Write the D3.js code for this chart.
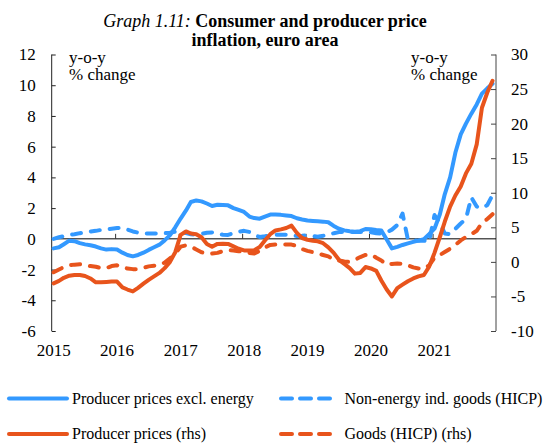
<!DOCTYPE html>
<html>
<head>
<meta charset="utf-8">
<script src="https://cdn.jsdelivr.net/npm/d3@7"></script>
<style>
  body { margin: 0; background: #fff; }
  #chart { width: 545px; height: 443px; }
  svg text { font-family: "Liberation Serif", "Times New Roman", serif; fill: #000; }
</style>
</head>
<body>
<div id="chart"></div>
<script>
// monthly data, Jan 2015 - Dec 2021
var startYear = 2015;
var yearLabels = ["2015", "2016", "2017", "2018", "2019", "2020", "2021"];
var leftTicks = [-6, -4, -2, 0, 2, 4, 6, 8, 10, 12];
var rightTicks = [-10, -5, 0, 5, 10, 15, 20, 25, 30];

// Producer prices excl. energy (lhs)
var ppiExEnergy = [
  -0.62, -0.55, -0.35, -0.12, -0.15, -0.28, -0.36, -0.42, -0.5, -0.62, -0.7, -0.67,
  -0.7, -0.9, -1.05, -1.14, -1.05, -0.9, -0.72, -0.55, -0.38, -0.1, 0.24, 0.75,
  1.32, 1.85, 2.4, 2.5, 2.44, 2.3, 2.14, 2.22, 2.2, 2.18, 2.0, 1.88,
  1.75, 1.45, 1.35, 1.31, 1.45, 1.58, 1.58, 1.56, 1.52, 1.48, 1.34, 1.26,
  1.19, 1.16, 1.14, 1.12, 1.08, 0.84, 0.66, 0.55, 0.5, 0.46, 0.5, 0.64,
  0.62, 0.58, 0.55, -0.05, -0.62, -0.52, -0.4, -0.3, -0.2, -0.12, -0.02, 0.3,
  0.66, 1.6, 2.9, 4.0, 5.6, 6.8, 7.5, 8.15, 8.75, 9.45, 9.8, 10.1
];

// Non-energy ind. goods (HICP) (lhs)
var neig = [
  0.0, 0.1, 0.17, 0.25, 0.3, 0.37, 0.42, 0.47, 0.52, 0.58, 0.62, 0.66,
  0.7, 0.72, 0.6, 0.48, 0.4, 0.35, 0.34, 0.34, 0.35, 0.37, 0.4, 0.47,
  0.48, 0.38, 0.3, 0.27, 0.32, 0.4, 0.42, 0.34, 0.27, 0.25, 0.38, 0.46,
  0.52, 0.45, 0.25, 0.12, 0.17, 0.23, 0.26, 0.27, 0.27, 0.24, 0.19, 0.2,
  0.22, 0.18, 0.13, 0.2, 0.3, 0.36, 0.44, 0.44, 0.44, 0.44, 0.44, 0.44,
  0.42, 0.37, 0.34, 0.42, 0.6, 0.9, 1.65, -0.05, -0.1, -0.12, -0.12, -0.2,
  1.55, 1.05, 0.35, 0.3, 0.65, 1.0, 1.3, 2.7, 2.1, 2.0, 2.2, 2.85
];

// Producer prices (rhs)
var ppi = [
  -3.1, -2.75, -2.3, -2.0, -1.9, -1.9, -2.05, -2.4, -2.95, -2.95, -2.9, -2.85,
  -2.85, -3.7, -4.0, -4.27, -3.75, -3.15, -2.6, -2.1, -1.6, -0.9, 0.0, 1.4,
  3.9, 4.4, 4.1, 4.0, 3.55, 2.6, 2.2, 2.6, 2.63, 2.6, 2.25, 1.9,
  1.66, 1.66, 1.7, 2.14, 3.1, 4.0, 4.55, 4.7, 4.9, 5.25, 4.2, 3.45,
  3.2, 3.05, 2.97, 2.7, 2.1, 1.3, 0.3, -0.3, -0.9, -1.7, -1.6, -0.75,
  -0.95, -1.3, -2.7, -4.0, -5.0, -3.8, -3.3, -2.8, -2.4, -2.1, -1.9, -0.7,
  1.3, 3.6, 5.8, 8.0, 9.6, 10.9, 12.8, 14.2, 17.0, 22.3, 24.5, 26.2
];

// Goods (HICP) (rhs)
var goods = [
  -1.5, -1.1, -0.75, -0.5, -0.4, -0.35, -0.5, -0.6, -0.7, -0.9, -0.9, -0.6,
  -0.5, -0.75, -0.97, -1.05, -1.05, -0.85, -0.65, -0.55, -0.45, -0.1, 0.5, 1.2,
  2.2, 2.4, 2.2, 1.8, 1.4, 1.2, 1.2, 1.3, 1.55, 1.7, 1.65, 1.55,
  1.42, 1.3, 1.2, 1.6, 2.1, 2.45, 2.5, 2.5, 2.5, 2.5, 2.3, 1.85,
  1.6, 1.4, 1.2, 1.0, 0.8, 0.3, 0.2, 0.05, 0.0, 0.3, 0.7, 1.0,
  1.1, 0.6, 0.2, -0.4, -0.3, -0.25, -0.26, -0.5, -0.8, -0.95, -1.0, -0.5,
  0.6, 1.0, 1.42, 1.9, 2.45, 3.1, 3.6, 4.0, 4.5, 5.6, 6.2, 6.9
];

var blue = "#3399ff";
var orange = "#e8541c";

var series = [
  {name: "Producer prices excl. energy", values: ppiExEnergy, axis: "left", color: blue, dash: null},
  {name: "Non-energy ind. goods (HICP)", values: neig, axis: "left", color: blue, dash: "9,10"},
  {name: "Producer prices (rhs)", values: ppi, axis: "right", color: orange, dash: null},
  {name: "Goods (HICP) (rhs)", values: goods, axis: "right", color: orange, dash: "9,10"}
];

var width = 545;
var height = 443;
var margin = {top: 54.5, left: 51.7, right: 49, bottom: 112};
var serif = "Liberation Serif, Times New Roman, serif";

var svg = d3.select("#chart")
  .append("svg")
  .attr("width", width)
  .attr("height", height);

// points sit a little into each month
function monthDate(i) {
  return new Date(startYear, i, 12);
}

// plain hyphen for negatives, like the original
function plain(d) { return String(d); }

var xScale = d3.scaleTime()
  .domain([new Date(startYear, 0, 1), new Date(startYear + yearLabels.length, 0, 1)])
  .range([margin.left, width - margin.right]);

var yLeft = d3.scaleLinear()
  .domain([-6, 12])
  .range([height - margin.bottom, margin.top]);

var yRight = d3.scaleLinear()
  .domain([-10, 30])
  .range([height - margin.bottom, margin.top]);

// title
var title = svg.append("text")
  .attr("x", 265)
  .attr("y", 27)
  .attr("text-anchor", "middle")
  .style("font-size", "18px");
title.append("tspan").style("font-style", "italic").text("Graph 1.11:");
title.append("tspan").style("font-weight", "bold").text(" Consumer and producer price");

svg.append("text")
  .attr("x", 265)
  .attr("y", 46)
  .attr("text-anchor", "middle")
  .style("font-size", "18px")
  .style("font-weight", "bold")
  .text("inflation, euro area");

// left axis
var leftAxis = svg.append("g")
  .attr("transform", `translate(${margin.left},0)`)
  .call(d3.axisRight(yLeft).tickValues(leftTicks).tickSize(4).tickFormat(plain));
leftAxis.attr("font-family", serif).attr("font-size", 17);
leftAxis.select(".domain").attr("stroke", "#222");
leftAxis.selectAll(".tick line").attr("stroke", "#222");
leftAxis.selectAll(".tick text")
  .attr("x", -16)
  .attr("text-anchor", "end");

// right axis
var rightAxis = svg.append("g")
  .attr("transform", `translate(${width - margin.right},0)`)
  .call(d3.axisLeft(yRight).tickValues(rightTicks).tickSize(5).tickFormat(plain));
rightAxis.attr("font-family", serif).attr("font-size", 17);
rightAxis.select(".domain").attr("stroke", "#444");
rightAxis.selectAll(".tick line").attr("stroke", "#444");
rightAxis.selectAll(".tick text")
  .attr("x", 15)
  .attr("text-anchor", "start");

// remove the end caps d3 adds to the domain path
leftAxis.select(".domain").attr("d", `M0,${yLeft(12)}V${yLeft(-6)}`);
rightAxis.select(".domain").attr("d", `M0,${yRight(30)}V${yRight(-10)}`);

// zero line with year ticks
var years = yearLabels.map(function(d) { return new Date(+d, 0, 1); });
var xAxis = svg.append("g")
  .attr("transform", `translate(0,${yLeft(0)})`)
  .call(d3.axisTop(xScale).tickValues(years.slice(1)).tickSize(5).tickFormat(""));
xAxis.select(".domain")
  .attr("d", `M${margin.left},0H${width - margin.right}`)
  .attr("stroke", "#000");
xAxis.selectAll(".tick line").attr("stroke", "#333");

svg.selectAll(".yearLabel")
  .data(years)
  .enter()
  .append("text")
  .attr("class", "yearLabel")
  .attr("x", function(d) { return xScale(d) + 2; })
  .attr("y", 356)
  .attr("text-anchor", "middle")
  .style("font-size", "17px")
  .text(function(d, i) { return yearLabels[i]; });

// unit labels
[69, 411].forEach(function(x) {
  svg.append("text").attr("x", x).attr("y", 62.5).style("font-size", "17px").text("y-o-y");
  svg.append("text").attr("x", x).attr("y", 80).style("font-size", "17px").text("% change");
});

// lines
var drawOrder = [1, 3, 0, 2];
drawOrder.forEach(function(k) {
  var s = series[k];
  var yScale = s.axis === "left" ? yLeft : yRight;
  var line = d3.line()
    .x(function(d, i) { return xScale(monthDate(i)); })
    .y(function(d) { return yScale(d); });
  svg.append("path")
    .datum(s.values)
    .attr("d", line)
    .attr("fill", "none")
    .attr("stroke", s.color)
    .attr("stroke-width", 4)
    .attr("stroke-linejoin", "round")
    .attr("stroke-linecap", "round")
    .attr("stroke-dasharray", s.dash);
});

// legend
var legendPos = [
  {x: 9, y: 398.5},
  {x: 281, y: 398.5},
  {x: 9, y: 434},
  {x: 281, y: 434}
];
var legend = svg.selectAll(".legend")
  .data(series)
  .enter()
  .append("g")
  .attr("class", "legend")
  .attr("transform", function(d, i) { return `translate(${legendPos[i].x},${legendPos[i].y})`; });

legend.append("line")
  .attr("x1", 0)
  .attr("x2", function(d) { return d.dash ? 53 : 58; })
  .attr("stroke", function(d) { return d.color; })
  .attr("stroke-width", 4)
  .attr("stroke-linecap", "round")
  .attr("stroke-dasharray", function(d) { return d.dash ? "11,8" : null; });

legend.append("text")
  .attr("x", function(d) { return d.dash ? 63.5 : 63; })
  .attr("y", 5)
  .style("font-size", "16px")
  .text(function(d) { return d.name; });
</script>
</body>
</html>
